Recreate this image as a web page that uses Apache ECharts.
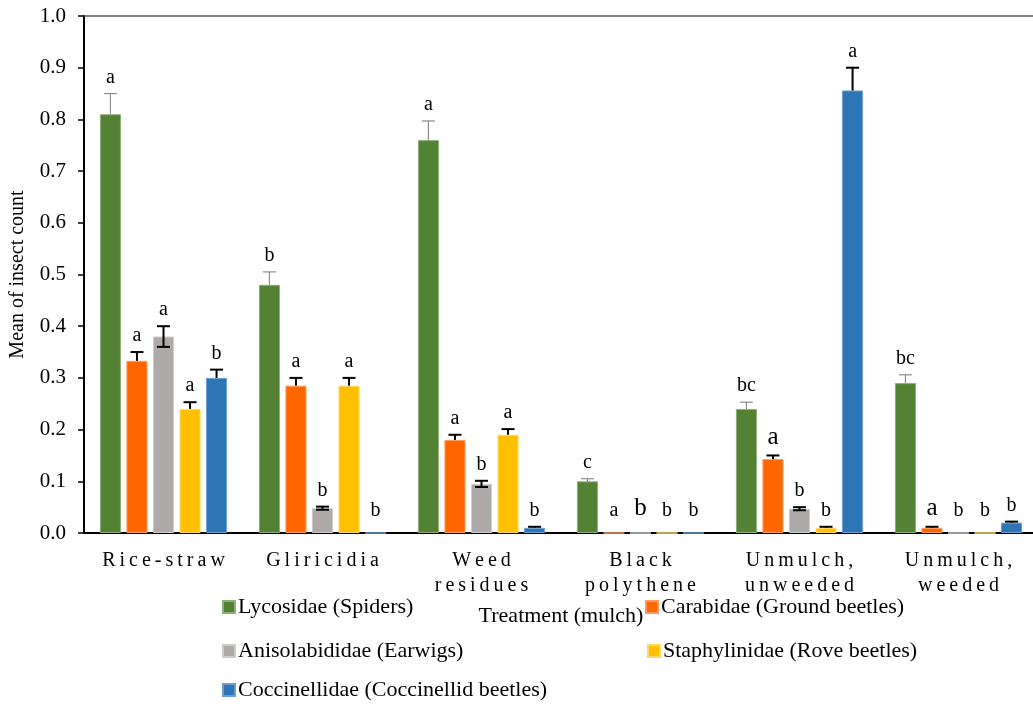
<!DOCTYPE html>
<html>
<head>
<meta charset="utf-8">
<title>Mean insect count by mulch treatment</title>
<script src="https://cdn.jsdelivr.net/npm/echarts@6/dist/echarts.min.js"></script>
<style>
  html, body { margin: 0; padding: 0; background: #fff; }
  #chart { width: 1033px; height: 704px; }
</style>
</head>
<body>
<div id="chart"></div>
<script>
// Treatments (x categories)
const categories = ['Rice-straw', 'Gliricidia', 'Weed\nresidues', 'Black\npolythene', 'Unmulch,\nunweeded', 'Unmulch,\nweeded'];

// Mean counts per family
const lycosidae      = [0.81, 0.48, 0.76, 0.10, 0.24, 0.29];
const carabidae      = [0.333, 0.285, 0.18, 0, 0.143, 0.01];
const anisolabididae = [0.38, 0.048, 0.095, 0, 0.047, 0];
const staphylinidae  = [0.24, 0.285, 0.19, 0, 0.01, 0];
const coccinellidae  = [0.30, 0, 0.01, 0, 0.856, 0.02];

// Standard errors
const lycosidaeErr      = [0.04, 0.025, 0.037, 0.005, 0.013, 0.016];
const carabidaeErr      = [0.017, 0.015, 0.01, 0, 0.007, 0.002];
const anisolabididaeErr = [0.02, 0.003, 0.006, 0, 0.003, 0];
const staphylinidaeErr  = [0.013, 0.015, 0.011, 0, 0.002, 0];
const coccinellidaeErr  = [0.016, 0, 0.002, 0, 0.044, 0.002];

// Mean separation letters
const lycosidaeLetters      = ['a', 'b', 'a', 'c', 'bc', 'bc'];
const carabidaeLetters      = ['a', 'a', 'a', 'a', 'a', 'a'];
const anisolabididaeLetters = ['a', 'b', 'b', 'b', 'b', 'b'];
const staphylinidaeLetters  = ['a', 'a', 'a', 'b', 'b', 'b'];
const coccinellidaeLetters  = ['b', 'b', 'b', 'b', 'a', 'b'];

// Y axis ticks
const yTicks = [0, 0.1, 0.2, 0.3, 0.4, 0.5, 0.6, 0.7, 0.8, 0.9, 1.0];

const seriesDefs = [
  { name: 'Lycosidae (Spiders)',                 values: lycosidae,      err: lycosidaeErr,      letters: lycosidaeLetters,      color: '#548235', edge: '#8fae78', errColor: '#8c8c8c', errWidth: 1.2, both: false },
  { name: 'Carabidae (Ground beetles)',          values: carabidae,      err: carabidaeErr,      letters: carabidaeLetters,      color: '#ff6600', edge: '#ff9a5c', errColor: '#000',    errWidth: 2,   both: false },
  { name: 'Anisolabididae (Earwigs)',            values: anisolabididae, err: anisolabididaeErr, letters: anisolabididaeLetters, color: '#aeaaaa', edge: '#cfcccc', errColor: '#000',    errWidth: 2,   both: true },
  { name: 'Staphylinidae (Rove beetles)',        values: staphylinidae,  err: staphylinidaeErr,  letters: staphylinidaeLetters,  color: '#ffc000', edge: '#ffd966', errColor: '#000',    errWidth: 2,   both: false },
  { name: 'Coccinellidae (Coccinellid beetles)', values: coccinellidae,  err: coccinellidaeErr,  letters: coccinellidaeLetters,  color: '#2e75b6', edge: '#6d9fd0', errColor: '#000',    errWidth: 2,   both: false }
];

// Letters typeset a little larger (series index, category index)
const largeLetters = new Set(['2-3', '1-4', '1-5']);

const FONT = '"Liberation Serif", "Times New Roman", serif';
const BAR_GAP = 0.26;      // gap between bars within a group, fraction of bar width
const CAT_GAP = 0.20;      // gap between groups, fraction of band width
const N = seriesDefs.length;

// Rows for the error-bar / letter overlay
const overlayRows = [];
seriesDefs.forEach((s, si) => {
  categories.forEach((c, ci) => {
    overlayRows.push({ ci, si, v: s.values[ci], e: s.err[ci], letter: s.letters[ci] });
  });
});

function renderOverlay(params, api) {
  const row = overlayRows[params.dataIndex];
  const s = seriesDefs[row.si];
  const band = api.size([1, 0])[0];
  const usable = band * (1 - CAT_GAP);
  const bw = usable / (N + (N - 1) * BAR_GAP);
  const cx = api.coord([row.ci, 0])[0] - usable / 2 + row.si * bw * (1 + BAR_GAP) + bw / 2;
  const yVal = api.coord([row.ci, row.v])[1];
  const yTop = api.coord([row.ci, row.v + row.e])[1];
  const yLow = api.coord([row.ci, Math.max(0, row.v - row.e)])[1];
  const cap = 6.5;
  const children = [];
  const ls = { stroke: s.errColor, lineWidth: s.errWidth };
  if (row.e > 0) {
    children.push({ type: 'line', shape: { x1: cx, y1: s.both ? yLow : yVal, x2: cx, y2: yTop }, style: ls });
    children.push({ type: 'line', shape: { x1: cx - cap, y1: yTop, x2: cx + cap, y2: yTop }, style: ls });
    if (s.both) {
      children.push({ type: 'line', shape: { x1: cx - cap, y1: yLow, x2: cx + cap, y2: yLow }, style: ls });
    }
  }
  const big = largeLetters.has(row.si + '-' + row.ci);
  children.push({
    type: 'text',
    style: {
      x: cx, y: yTop - (row.v + row.e > 0 ? 6 : 12),
      text: row.letter,
      fill: '#000',
      font: (big ? 25 : 20) + 'px ' + FONT,
      align: 'center',
      verticalAlign: 'bottom'
    }
  });
  return { type: 'group', children };
}

// Category names are set with expanded letter spacing (thin spaces between glyphs)
const spaced = (txt) => txt.split('\n').map(l => l.split('').join('\u2009')).join('\n');

// One legend block per entry so the two-column layout can be placed freely
const legendSpots = [
  { left: 222, top: 596 },
  { left: 645, top: 596 },
  { left: 222, top: 640 },
  { left: 647, top: 640 },
  { left: 222, top: 679 }
];

const option = {
  backgroundColor: '#fff',
  animation: false,
  textStyle: { fontFamily: FONT },
  grid: { left: 84, top: 16, right: -5, bottom: 171, containLabel: false, outerBoundsMode: 'none' },
  legend: seriesDefs.map((s, i) => ({
    data: [s.name],
    left: legendSpots[i].left,
    top: legendSpots[i].top,
    padding: 0,
    itemWidth: 12,
    itemHeight: 12,
    itemGap: 0,
    icon: 'rect',
    selectedMode: false,
    textStyle: { fontFamily: FONT, fontSize: 22, color: '#000', padding: [0, 0, 0, -2] }
  })),
  xAxis: [
    {
      type: 'category',
      data: categories,
      axisLine: { lineStyle: { color: '#000', width: 2 } },
      axisTick: { show: false },
      axisLabel: {
        interval: 0,
        margin: 15,
        color: '#000',
        fontFamily: FONT,
        fontSize: 20,
        lineHeight: 25,
        formatter: spaced
      },
      name: 'Treatment (mulch)',
      nameLocation: 'middle',
      nameGap: 72,
      nameTextStyle: { color: '#000', fontFamily: FONT, fontSize: 22 }
    },
    {
      type: 'category',
      data: categories,
      position: 'top',
      axisLine: { lineStyle: { color: '#595959', width: 1.5 } },
      axisTick: { show: false },
      axisLabel: { show: false }
    }
  ],
  yAxis: {
    type: 'value',
    min: yTicks[0],
    max: yTicks[yTicks.length - 1],
    interval: 0.1,
    axisLine: { show: true, lineStyle: { color: '#000', width: 2 } },
    axisTick: { show: true, length: 6, lineStyle: { color: '#000', width: 1.5 } },
    splitLine: { show: false },
    axisLabel: {
      margin: 18,
      color: '#000',
      fontFamily: FONT,
      fontSize: 21,
      formatter: (v) => v.toFixed(1)
    },
    name: 'Mean of insect count',
    nameLocation: 'middle',
    nameGap: 56,
    nameTextStyle: { color: '#000', fontFamily: FONT, fontSize: 20 }
  },
  series: seriesDefs.map((s) => ({
    name: s.name,
    type: 'bar',
    data: s.values,
    barGap: (BAR_GAP * 100) + '%',
    barCategoryGap: (CAT_GAP * 100) + '%',
    itemStyle: { color: s.color, borderColor: s.edge, borderWidth: 1 }
  })).concat([{
    type: 'custom',
    name: 'errors',
    z: 5,
    silent: true,
    renderItem: renderOverlay,
    data: overlayRows.map(r => [r.ci, r.v + r.e]),
    encode: { x: 0, y: 1 }
  }])
};

const chart = echarts.init(document.getElementById('chart'), null, { renderer: 'canvas' });
chart.setOption(option);
</script>
</body>
</html>
